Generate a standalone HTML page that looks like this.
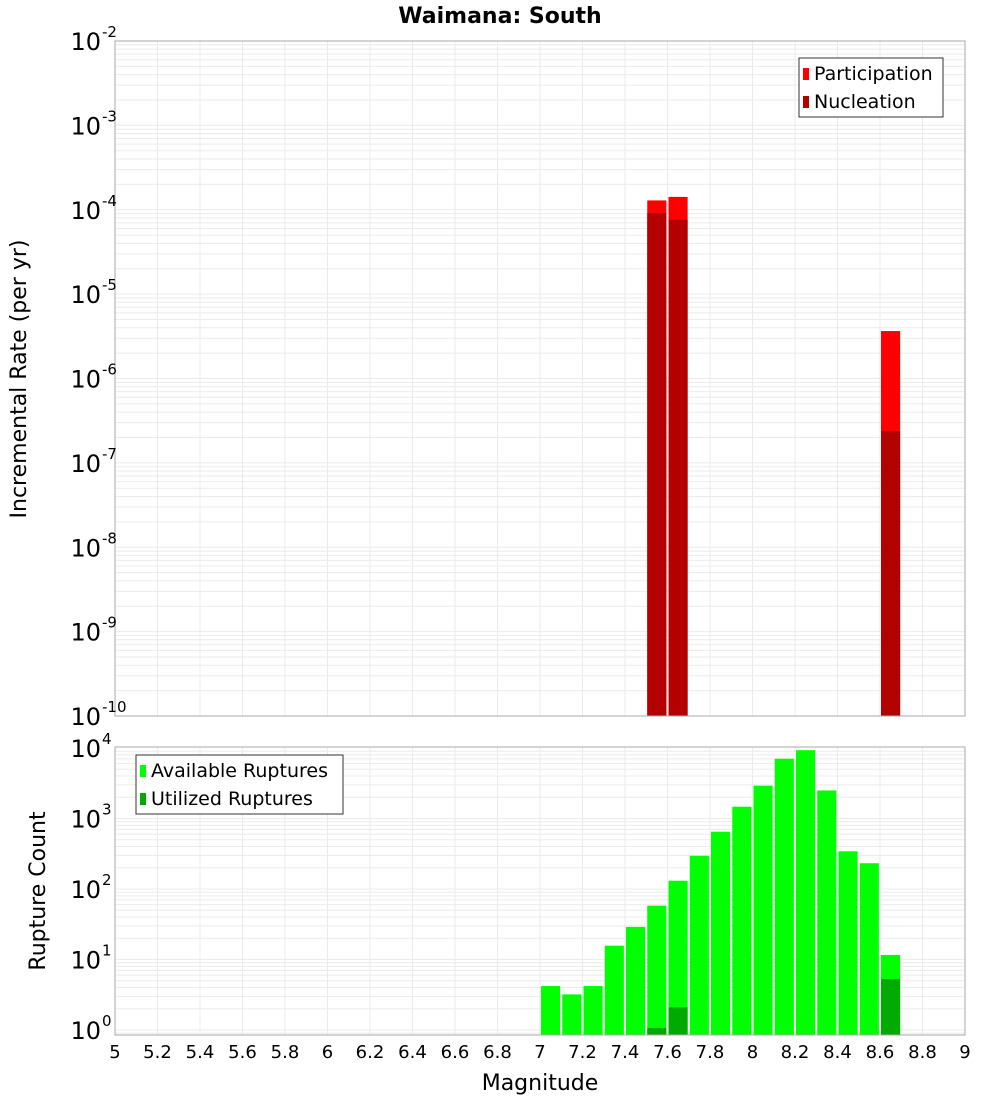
<!DOCTYPE html>
<html><head><meta charset="utf-8"><style>
body{margin:0;background:#fff}
svg text{font-family:"DejaVu Sans","Liberation Sans",sans-serif}
</style></head><body>
<svg id="c" width="1000" height="1100" xmlns="http://www.w3.org/2000/svg"></svg>
<script>
const mags=[7.05,7.15,7.25,7.35,7.45,7.55,7.65,7.75,7.85,7.95,8.05,8.15,8.25,8.35,8.45,8.55,8.65];
const available=[4.2,3.2,4.2,15.7,29,58,131,296,650,1470,2920,7050,9300,2500,343,232,11.6];
const utilizedMags=[7.55,7.65,8.65];
const utilized=[1.07,2.1,5.3];
const rateMags=[7.55,7.65,8.65];
const participation=[1.29e-4,1.42e-4,3.65e-6];
const nucleation=[9.1e-5,7.6e-5,2.39e-7];
const xTicks=["5","5.2","5.4","5.6","5.8","6","6.2","6.4","6.6","6.8","7","7.2","7.4","7.6","7.8","8","8.2","8.4","8.6","8.8","9"];
const topExp=[-2,-3,-4,-5,-6,-7,-8,-9,-10];
const botExp=[4,3,2,1,0];

const NS="http://www.w3.org/2000/svg";
const svg=document.getElementById('c');
function el(t,a,p){const e=document.createElementNS(NS,t);for(const k in a)e.setAttribute(k,a[k]);(p||svg).appendChild(e);return e;}
const X0=115,X1=965;
const xs=m=>X0+(m-5)/4*(X1-X0);
// top: 1e-2 at 41, 1e-10 at 716
const T0=41,T1=716;
const yTop=v=>T0+(-2-Math.log10(v))*(T1-T0)/8;
// bottom: 1e4 at 748, 1e0 at 1030
const B0=747,B1=1035;
const yBot=v=>748+(4-Math.log10(v))*70.5;

function grid(yf,lo,hi,y0,y1){
  const g=el('g',{});
  
  
  for(let e=lo;e<hi;e++)for(let k=1;k<10;k++){const y=yf(k*Math.pow(10,e));if(y>=y0&&y<=y1)el('line',{x1:X0,x2:X1,y1:y,y2:y,stroke:'#ebebeb','stroke-width':1},g);}
  for(let i=0;i<xTicks.length;i++){const x=xs(5+i*0.2);el('line',{x1:x,x2:x,y1:y0,y2:y1,stroke:'#ebebeb','stroke-width':1},g);}
}
grid(yTop,-10,-2,T0,T1);
grid(yBot,-1,4,B0,B1);

// top bars
for(let i=0;i<rateMags.length;i++){
  const x=xs(rateMags[i]-0.05)+1,w=xs(0.09+5)-X0;
  const p=el('rect',{x:x,y:yTop(participation[i]),width:w,height:T1-yTop(participation[i]),fill:'#ff0000'});
  
  
  const n=el('rect',{x:x,y:yTop(nucleation[i]),width:w,height:T1-yTop(nucleation[i]),fill:'#b30000'});
  
  
}
// bottom bars
for(let i=0;i<mags.length;i++){
  const x=xs(mags[i]-0.05)+1,w=xs(0.09+5)-X0;
  const y=Math.max(yBot(available[i]),B0);
  const r=el('rect',{x:x,y:y,width:w,height:B1-y,fill:'#00ff00'});
  
  
}
for(let i=0;i<utilizedMags.length;i++){
  const x=xs(utilizedMags[i]-0.05)+1,w=xs(0.09+5)-X0;
  const y=yBot(utilized[i]);
  const r=el('rect',{x:x,y:y,width:w,height:B1-y,fill:'#00aa00'});
  
  
}
// frames
el('rect',{x:X0,y:T0,width:X1-X0,height:T1-T0,fill:'none',stroke:'#aaa','stroke-width':1});
el('rect',{x:X0,y:B0,width:X1-X0,height:B1-B0,fill:'none',stroke:'#aaa','stroke-width':1});

// y tick labels
function ylab(y,exp,name){
  const t=el('text',{x:101,y:y+9,'font-size':24,'text-anchor':'end',fill:'#000'});
  t.textContent='10';
  
  
  const s=el('text',{x:102,y:y-4,'font-size':15,fill:'#000'});
  s.textContent=String(exp);
}
topExp.forEach(e=>ylab(yTop(Math.pow(10,e)),e,'y-tick-label'));
botExp.forEach(e=>ylab(yBot(Math.pow(10,e)),e,'y-tick-label-bottom'));
// x tick labels
xTicks.forEach((s,i)=>{const t=el('text',{x:xs(5+i*0.2),y:1058,'font-size':18,'text-anchor':'middle',fill:'#000'});t.textContent=s;

});

// titles
let t=el('text',{x:500,y:23,'font-size':22,'font-weight':'bold','text-anchor':'middle'});t.textContent='Waimana: South';


t=el('text',{x:540,y:1090,'font-size':22,'text-anchor':'middle'});t.textContent='Magnitude';


t=el('text',{x:0,y:0,'font-size':22,'text-anchor':'middle',transform:'translate(26,379) rotate(-90)'});t.textContent='Incremental Rate (per yr)';


t=el('text',{x:0,y:0,'font-size':22,'text-anchor':'middle',transform:'translate(45,891) rotate(-90)'});t.textContent='Rupture Count';



// legends
function legend(x,y,w,items,name){
  const g=el('g',{});
  
  
  el('rect',{x:x,y:y,width:w,height:59,fill:'#fff',stroke:'#333','stroke-width':1},g);
  items.forEach((it,i)=>{
    el('rect',{x:x+4,y:y+10+i*28,width:6,height:12,fill:it[1]},g);
    const tt=el('text',{x:x+15,y:y+22+i*28,'font-size':19},g);tt.textContent=it[0];
  });
}
legend(799,58,144,[['Participation','#ff0000'],['Nucleation','#b30000']],'legend-top');
legend(136,755,207,[['Available Ruptures','#00ff00'],['Utilized Ruptures','#00aa00']],'legend-bottom');
</script>
</body></html>
